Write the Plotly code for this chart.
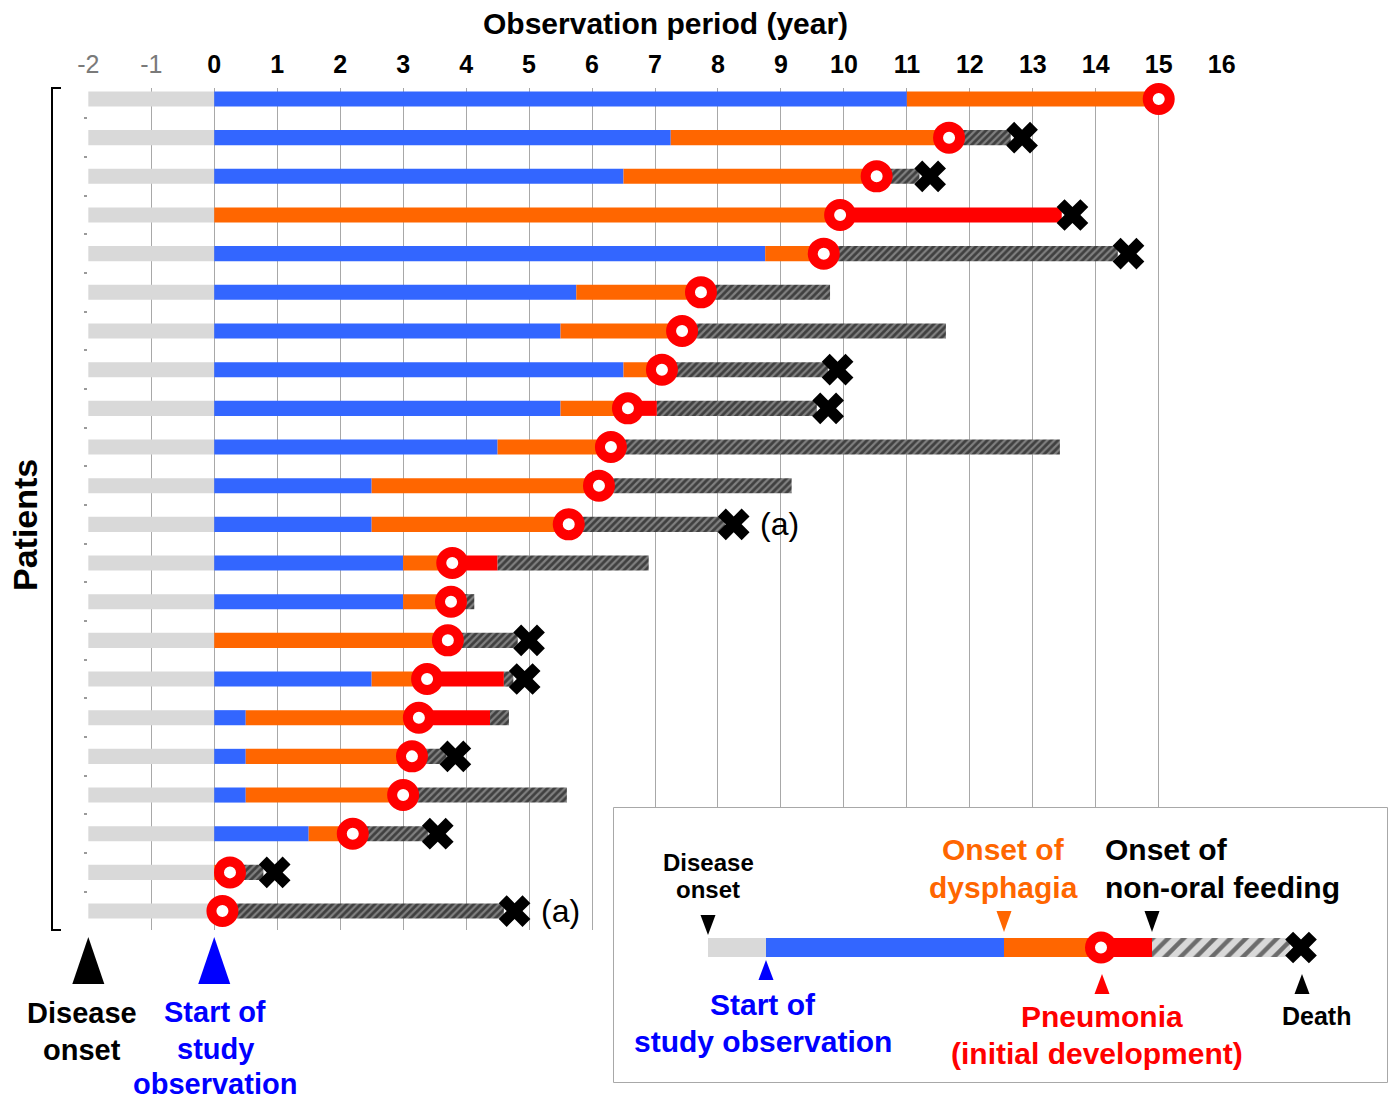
import plotly.graph_objects as go

W, H = 1388, 1099

# ---- patient timelines (years relative to start of study observation) ----
patients = list(range(1, 23))
disease_onset = [-2, -2, -2, -2, -2, -2, -2, -2, -2, -2, -2,
                 -2, -2, -2, -2, -2, -2, -2, -2, -2, -2, -2]
study_start = [0, 0, 0, 0, 0, 0, 0, 0, 0, 0, 0,
               0, 0, 0, 0, 0, 0, 0, 0, 0, 0, 0]
dysphagia = [11.0, 7.25, 6.5, 0.0, 8.75, 5.75, 5.5, 6.5, 5.5, 4.5, 2.5,
             2.5, 3.0, 3.0, 0.0, 2.5, 0.5, 0.5, 0.5, 1.5, 0.0, 0.0]
pneumonia = [15.0, 11.67, 10.52, 9.94, 9.68, 7.73, 7.43, 7.11, 6.57, 6.3, 6.11,
             5.63, 3.78, 3.76, 3.71, 3.38, 3.25, 3.14, 3.0, 2.2, 0.25, 0.13]
tube_feeding = [None, 11.67, 10.52, None, 9.68, 7.73, 7.43, 7.11, 7.03, 6.3, 6.11,
                5.63, 4.5, 3.76, 3.71, 4.6, 4.38, 3.14, 3.0, 2.2, 0.25, 0.13]
obs_end = [15.0, 12.65, 11.2, 13.46, 14.35, 9.78, 11.62, 9.75, 9.57, 13.43, 9.17,
           8.11, 6.9, 4.13, 4.82, 4.75, 4.68, 3.69, 5.6, 3.4, 0.78, 4.6]
death = [None, 12.83, 11.37, 13.63, 14.52, None, None, 9.9, 9.75, None, None,
         8.25, None, None, 5.0, 4.93, None, 3.83, None, 3.55, 0.96, 4.77]
notes = ["", "", "", "", "", "", "", "", "", "", "",
         "(a)", "", "", "", "", "", "", "", "", "", "(a)"]

year_ticks = list(range(-2, 17))

# ---- legend demo timeline (legend box local units) ----
legend_onset = 94
legend_start = 152
legend_dysphagia = 390
legend_pneumonia = 487
legend_tube = 538
legend_end = 676
legend_death = 687

GRAY = "#D9D9D9"
BLUE = "#3366FF"
ORANGE = "#FF6600"
RED = "#FF0000"
HATCH = dict(shape="/", fgcolor="#000000", bgcolor="#808080", size=5, solidity=0.55)
FONT = "Liberation Sans, Arial, sans-serif"

# main time axis geometry
X_RANGE = [-2.005, 16.005]
X_DOMAIN_PX = [88, 1222]


def px(x):
    return x / W


def py(y):
    return 1 - y / H


def year_to_paper(v):
    """Paper x of a year value on the main time axis."""
    lo, hi = X_RANGE
    d0, d1 = X_DOMAIN_PX
    return px(d0 + (v - lo) / (hi - lo) * (d1 - d0))


def segments(start_list, end_list):
    ys, bases, lens = [], [], []
    for p, s, e in zip(patients, start_list, end_list):
        if s is None or e is None or e - s <= 0:
            continue
        ys.append(p)
        bases.append(s)
        lens.append(e - s)
    return ys, bases, lens


red_end = [t if t is not None else e for t, e in zip(tube_feeding, obs_end)]

fig = go.Figure()

BAR_W = 0.39
for start, end, style in [
    (disease_onset, study_start, dict(color=GRAY)),
    (study_start, dysphagia, dict(color=BLUE)),
    (dysphagia, pneumonia, dict(color=ORANGE)),
    (pneumonia, red_end, dict(color=RED)),
    (tube_feeding, obs_end, dict(color="#808080", pattern=HATCH)),
]:
    ys, bases, lens = segments(start, end)
    fig.add_trace(go.Bar(
        y=ys, x=lens, base=bases, orientation="h", width=BAR_W,
        marker=dict(line=dict(width=0), **style),
        hoverinfo="skip", showlegend=False, xaxis="x", yaxis="y"))

# pneumonia rings
fig.add_trace(go.Scatter(
    x=pneumonia, y=patients, mode="markers", cliponaxis=False,
    marker=dict(symbol="circle", size=22, color="white", line=dict(color=RED, width=10)),
    hoverinfo="skip", showlegend=False))

# deaths
dx = [d for d in death if d is not None]
dy = [p for p, d in zip(patients, death) if d is not None]
fig.add_trace(go.Scatter(
    x=dx, y=dy, mode="markers", cliponaxis=False,
    marker=dict(symbol="x", size=28, color="black", line=dict(width=0)),
    hoverinfo="skip", showlegend=False))

annotations = []
for p, d, n in zip(patients, death, notes):
    if n:
        annotations.append(dict(x=d, y=p, xref="x", yref="y", text=n, showarrow=False,
                                xanchor="left", yanchor="middle", xshift=24,
                                font=dict(size=32, color="black", family=FONT)))

# ---- legend panel ----
leg_start = [legend_onset, legend_start, legend_dysphagia, legend_pneumonia, legend_tube]
leg_stop = [legend_start, legend_dysphagia, legend_pneumonia, legend_tube, legend_end]
leg_style = [dict(color=GRAY), dict(color=BLUE), dict(color=ORANGE), dict(color=RED),
             dict(color=GRAY, pattern=dict(shape="/", fgcolor="black", bgcolor=GRAY,
                                           size=11, solidity=0.4))]
LEG_Y = 139.5
for s, e, st in zip(leg_start, leg_stop, leg_style):
    fig.add_trace(go.Bar(y=[LEG_Y], x=[e - s], base=[s], orientation="h", width=19,
                         marker=dict(line=dict(width=0), **st),
                         hoverinfo="skip", showlegend=False, xaxis="x2", yaxis="y2"))
fig.add_trace(go.Scatter(
    x=[legend_pneumonia], y=[LEG_Y], mode="markers", xaxis="x2", yaxis="y2", cliponaxis=False,
    marker=dict(symbol="circle", size=22, color="white", line=dict(color=RED, width=10)),
    hoverinfo="skip", showlegend=False))
fig.add_trace(go.Scatter(
    x=[legend_death], y=[LEG_Y], mode="markers", xaxis="x2", yaxis="y2", cliponaxis=False,
    marker=dict(symbol="x", size=28, color="black", line=dict(width=0)),
    hoverinfo="skip", showlegend=False))

shapes = []
# legend frame
shapes.append(dict(type="rect", xref="x2 domain", yref="y2 domain", x0=0, x1=1, y0=0, y1=1,
                   fillcolor="white", line=dict(color="#8c8c8c", width=1.5), layer="below"))


def tri(xc, tip, base, half, color, xref, yref):
    return dict(type="path", xref=xref, yref=yref,
                path=f"M {xc - half},{base} L {xc + half},{base} L {xc},{tip} Z",
                fillcolor=color, line=dict(width=0), layer="above")


# legend pointers (local units, y grows downward)
shapes.append(tri(legend_onset, 127, 107, 7.5, "black", "x2", "y2"))
shapes.append(tri(legend_dysphagia, 124, 103, 7.5, ORANGE, "x2", "y2"))
shapes.append(tri(legend_tube, 124, 103, 7.5, "black", "x2", "y2"))
shapes.append(tri(legend_start, 152, 172, 7.5, "#0000FF", "x2", "y2"))
shapes.append(tri(legend_pneumonia + 1, 166, 186, 7.5, RED, "x2", "y2"))
shapes.append(tri(legend_death + 1, 166, 186, 7.5, "black", "x2", "y2"))

# big pointers under the time axis
shapes.append(tri(year_to_paper(disease_onset[0]), py(937), py(984), px(16), "black", "paper", "paper"))
shapes.append(tri(year_to_paper(study_start[0]), py(937), py(984), px(16), "#0000FF", "paper", "paper"))

# patient bracket
shapes.append(dict(type="path", xref="paper", yref="paper",
                   path=f"M {px(61)},{py(88)} L {px(52)},{py(88)} L {px(52)},{py(930)} L {px(61)},{py(930)}",
                   line=dict(color="black", width=2)))


def label(text, x, y, size, color, xref="paper", yref="paper", xanchor="center", angle=0):
    annotations.append(dict(x=x, y=y, xref=xref, yref=yref, text=text, showarrow=False,
                            xanchor=xanchor, yanchor="middle", textangle=angle,
                            font=dict(size=size, color=color, family=FONT)))


label("<b>Observation period (year)</b>", px(665), py(24), 30, "black")
label("<b>Patients</b>", px(25), py(525), 34, "black", angle=-90)
label("<b>Disease</b>", px(82), py(1013), 29, "black")
label("<b>onset</b>", px(82), py(1050), 29, "black")
label("<b>Start of</b>", px(215), py(1012), 29, "#0000FF")
label("<b>study</b>", px(215), py(1049), 29, "#0000FF")
label("<b>observation</b>", px(215), py(1084), 29, "#0000FF")

# legend captions (local units)
label("<b>Disease</b>", 94, 54, 24, "black", "x2", "y2")
label("<b>onset</b>", 94, 81, 24, "black", "x2", "y2")
label("<b>Onset of</b>", 389, 41, 30, ORANGE, "x2", "y2")
label("<b>dysphagia</b>", 389, 79, 30, ORANGE, "x2", "y2")
label("<b>Onset of</b>", 489, 41, 30, "black", "x2", "y2", xanchor="left")
label("<b>non-oral feeding</b>", 489, 79, 30, "black", "x2", "y2", xanchor="left")
label("<b>Start of</b>", 149, 196, 30, "#0000FF", "x2", "y2")
label("<b>study observation</b>", 149, 233, 30, "#0000FF", "x2", "y2")
label("<b>Pneumonia</b>", 488, 208, 30, RED, "x2", "y2")
label("<b>(initial development)</b>", 483, 245, 30, RED, "x2", "y2")
label("<b>Death</b>", 702, 208, 25, "black", "x2", "y2")

ticktext = []
for t in year_ticks:
    if t < 0:
        ticktext.append(f"<span style='color:#7a7a7a'>{t}</span>")
    else:
        ticktext.append(f"<b>{t}</b>")

fig.update_layout(
    width=W, height=H,
    margin=dict(l=0, r=0, t=0, b=0, autoexpand=False),
    paper_bgcolor="white", plot_bgcolor="white",
    barmode="overlay", showlegend=False,
    font=dict(family=FONT, color="black"),
    xaxis=dict(domain=[px(X_DOMAIN_PX[0]), px(X_DOMAIN_PX[1])], range=X_RANGE, side="top",
               tickvals=year_ticks, ticktext=ticktext, ticks="", showgrid=True,
               gridcolor="#a8a8a8", gridwidth=1, zeroline=False, showline=False,
               automargin=False,
               tickfont=dict(size=25, color="black", family=FONT), ticklabelstandoff=9),
    yaxis=dict(domain=[py(930), py(88)], range=[22.49, 0.716], anchor="x",
               tickvals=[p + 0.5 for p in patients[:-1]], ticks="outside", ticklen=3,
               tickwidth=2, tickcolor="#9a9a9a", showticklabels=False, showgrid=False,
               zeroline=False, showline=False, automargin=False),
    xaxis2=dict(domain=[px(614), px(1387)], range=[0, 773], anchor="y2", visible=False,
                automargin=False),
    yaxis2=dict(domain=[py(1082), py(808)], range=[274, 0], anchor="x2", visible=False,
                automargin=False),
    shapes=shapes,
    annotations=annotations,
)

fig.write_html("out.html")
